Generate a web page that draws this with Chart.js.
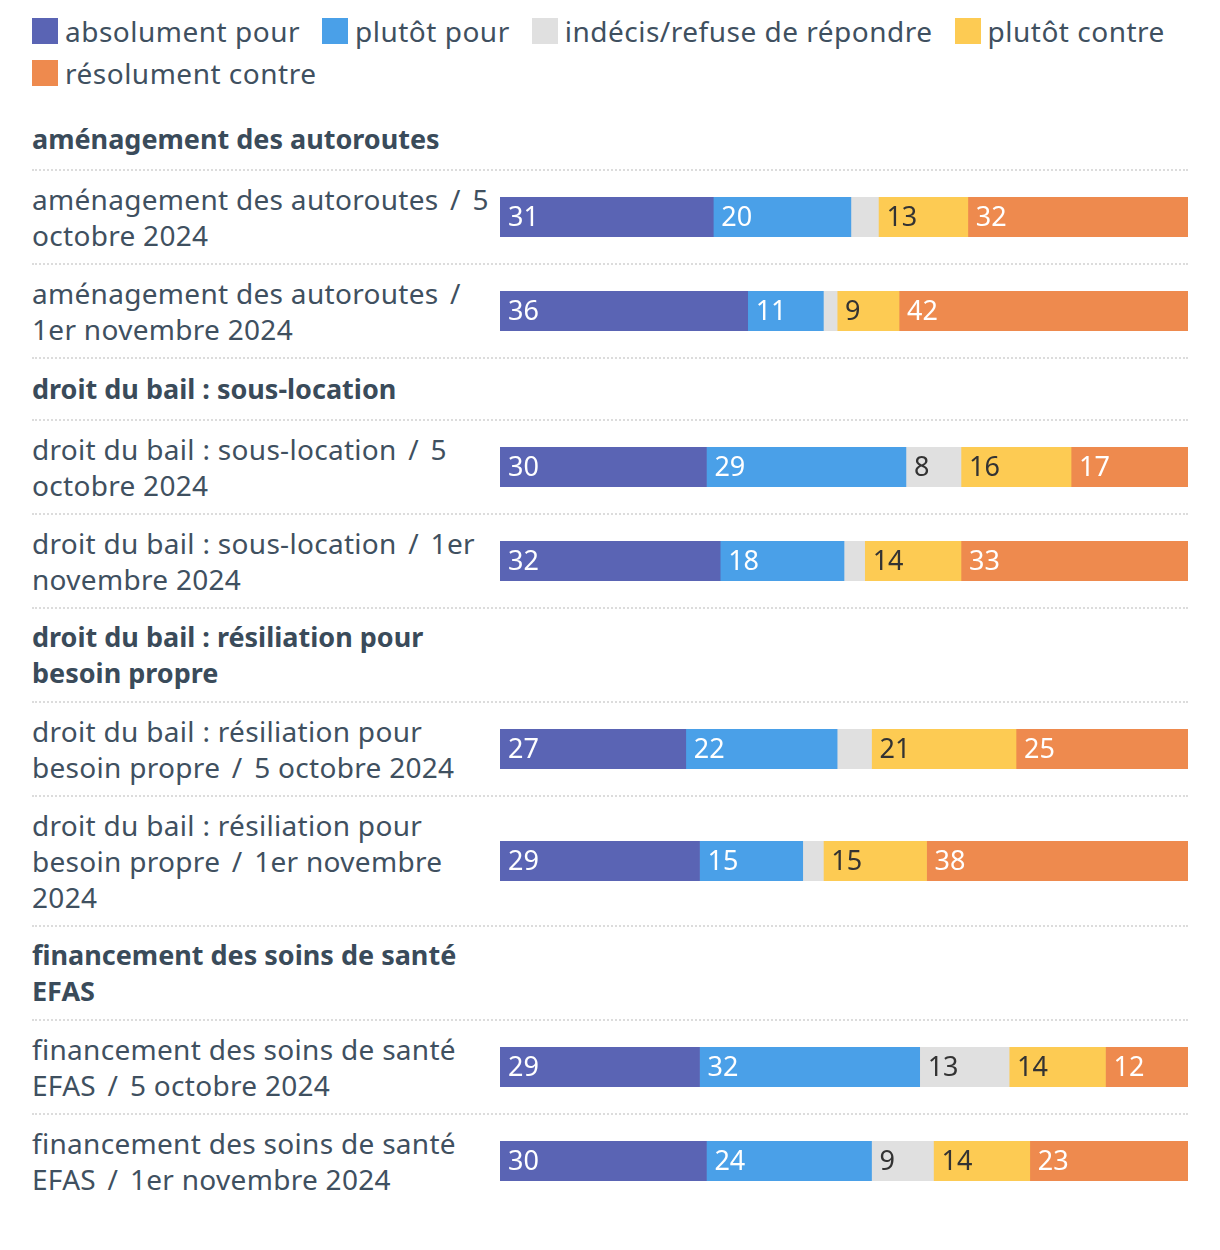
<!DOCTYPE html>
<html lang="fr">
<head>
<meta charset="utf-8">
<script src="https://cdn.jsdelivr.net/npm/chart.js@4.4.1/dist/chart.umd.min.js"></script>
<style>
  body { margin: 0; background: #fff; font-family: "Noto Sans", sans-serif; color: #3f5060; }
  #wrap { position: absolute; left: 32px; top: 1px; width: 1156px; }
  #legend { display: flex; flex-wrap: wrap; padding-top: 9px; height: 108px; box-sizing: border-box; align-content: flex-start; }
  .item { display: flex; align-items: center; height: 42px; margin-right: 22px; font-size: 28px; letter-spacing: 0.5px; }
  .sw { width: 26px; height: 26px; margin-right: 7px; }
  .row { display: flex; align-items: center; padding: 10px 0; border-bottom: 2px dotted #dcdcdc; }
  .row:last-child { border-bottom: none; }
  .lab { width: 468px; font-size: 28px; line-height: 36px; letter-spacing: 0.3px; }
  .lab .sl { padding: 0 4px; }
  .head .lab { font-weight: bold; font-size: 27px; letter-spacing: 0; width: 600px; color: #3a4b5a; }
  .bar { width: 688px; height: 40px; position: relative; }
  .head .bar { width: 0; }
</style>
</head>
<body>
<div id="wrap">
  <div id="legend"></div>
  <div id="rows"></div>
</div>
<script>
// series
var seriesNames = ["absolument pour", "plutôt pour", "indécis/refuse de répondre", "plutôt contre", "résolument contre"];
var seriesColors = ["#5a64b4", "#4aa0e8", "#e0e0e0", "#fdcb53", "#ee8a4e"];
var valueColors = ["#ffffff", "#ffffff", "#333333", "#333333", "#ffffff"];

// groups and rows
var groups = [
  ["aménagement des autoroutes"],
  ["droit du bail : sous-location"],
  ["droit du bail : résiliation pour", "besoin propre"],
  ["financement des soins de santé", "EFAS"]
];
var rowGroup = [0, 0, 1, 1, 2, 2, 3, 3];
var categories = [
  ["aménagement des autoroutes / 5", "octobre 2024"],
  ["aménagement des autoroutes /", "1er novembre 2024"],
  ["droit du bail : sous-location / 5", "octobre 2024"],
  ["droit du bail : sous-location / 1er", "novembre 2024"],
  ["droit du bail : résiliation pour", "besoin propre / 5 octobre 2024"],
  ["droit du bail : résiliation pour", "besoin propre / 1er novembre", "2024"],
  ["financement des soins de santé", "EFAS / 5 octobre 2024"],
  ["financement des soins de santé", "EFAS / 1er novembre 2024"]
];

var absolumentPour   = [31, 36, 30, 32, 27, 29, 29, 30];
var plutotPour       = [20, 11, 29, 18, 22, 15, 32, 24];
var indecis          = [4, 2, 8, 3, 5, 3, 13, 9];
var plutotContre     = [13, 9, 16, 14, 21, 15, 14, 14];
var resolumentContre = [32, 42, 17, 33, 25, 38, 12, 23];
var series = [absolumentPour, plutotPour, indecis, plutotContre, resolumentContre];

// legend
var legend = document.getElementById('legend');
seriesNames.forEach(function (name, i) {
    var item = document.createElement('div');
    item.className = 'item';
    item.innerHTML = '<span class="sw" style="background:' + seriesColors[i] + '"></span><span>' + name + '</span>';
    legend.appendChild(item);
});

// draws the numbers inside the segments
var valueLabels = {
    id: 'valueLabels',
    afterDatasetsDraw: function (chart) {
        var ctx = chart.ctx;
        ctx.save();
        ctx.font = '27px "Noto Sans", sans-serif';
        ctx.textBaseline = 'middle';
        ctx.textAlign = 'left';
        chart.data.datasets.forEach(function (ds, i) {
            chart.getDatasetMeta(i).data.forEach(function (bar, j) {
                var w = bar.x - bar.base;
                if (w < 45) return;
                ctx.fillStyle = valueColors[i];
                ctx.fillText(ds.data[j], bar.base + 8, bar.y + 1);
            });
        });
        ctx.restore();
    }
};

var rows = document.getElementById('rows');
function addRow(lines, head) {
    var row = document.createElement('div');
    row.className = head ? 'row head' : 'row';
    var html = lines.map(function (l) { return l.replace(' / ', ' <span class="sl">/</span> ').replace(/ \/$/, ' <span class="sl">/</span>'); });
    row.innerHTML = '<div class="lab">' + html.join('<br>') + '</div><div class="bar"></div>';
    rows.appendChild(row);
    return row.querySelector('.bar');
}

var lastGroup = -1;
categories.forEach(function (cat, r) {
    if (rowGroup[r] !== lastGroup) {
        lastGroup = rowGroup[r];
        addRow(groups[lastGroup], true);
    }
    var box = addRow(cat, false);
    var canvas = document.createElement('canvas');
    box.appendChild(canvas);
    new Chart(canvas, {
        type: 'bar',
        data: {
            labels: [cat.join(' ')],
            datasets: series.map(function (vals, i) {
                return {
                    label: seriesNames[i],
                    data: [vals[r]],
                    backgroundColor: seriesColors[i],
                    borderWidth: 0,
                    barPercentage: 1,
                    categoryPercentage: 1
                };
            })
        },
        options: {
            indexAxis: 'y',
            responsive: true,
            maintainAspectRatio: false,
            animation: false,
            layout: { padding: 0 },
            scales: {
                x: { stacked: true, min: 0, max: 100, display: false },
                y: { stacked: true, display: false }
            },
            plugins: { legend: { display: false }, tooltip: { enabled: false } }
        },
        plugins: [valueLabels]
    });
});
</script>
</body>
</html>
